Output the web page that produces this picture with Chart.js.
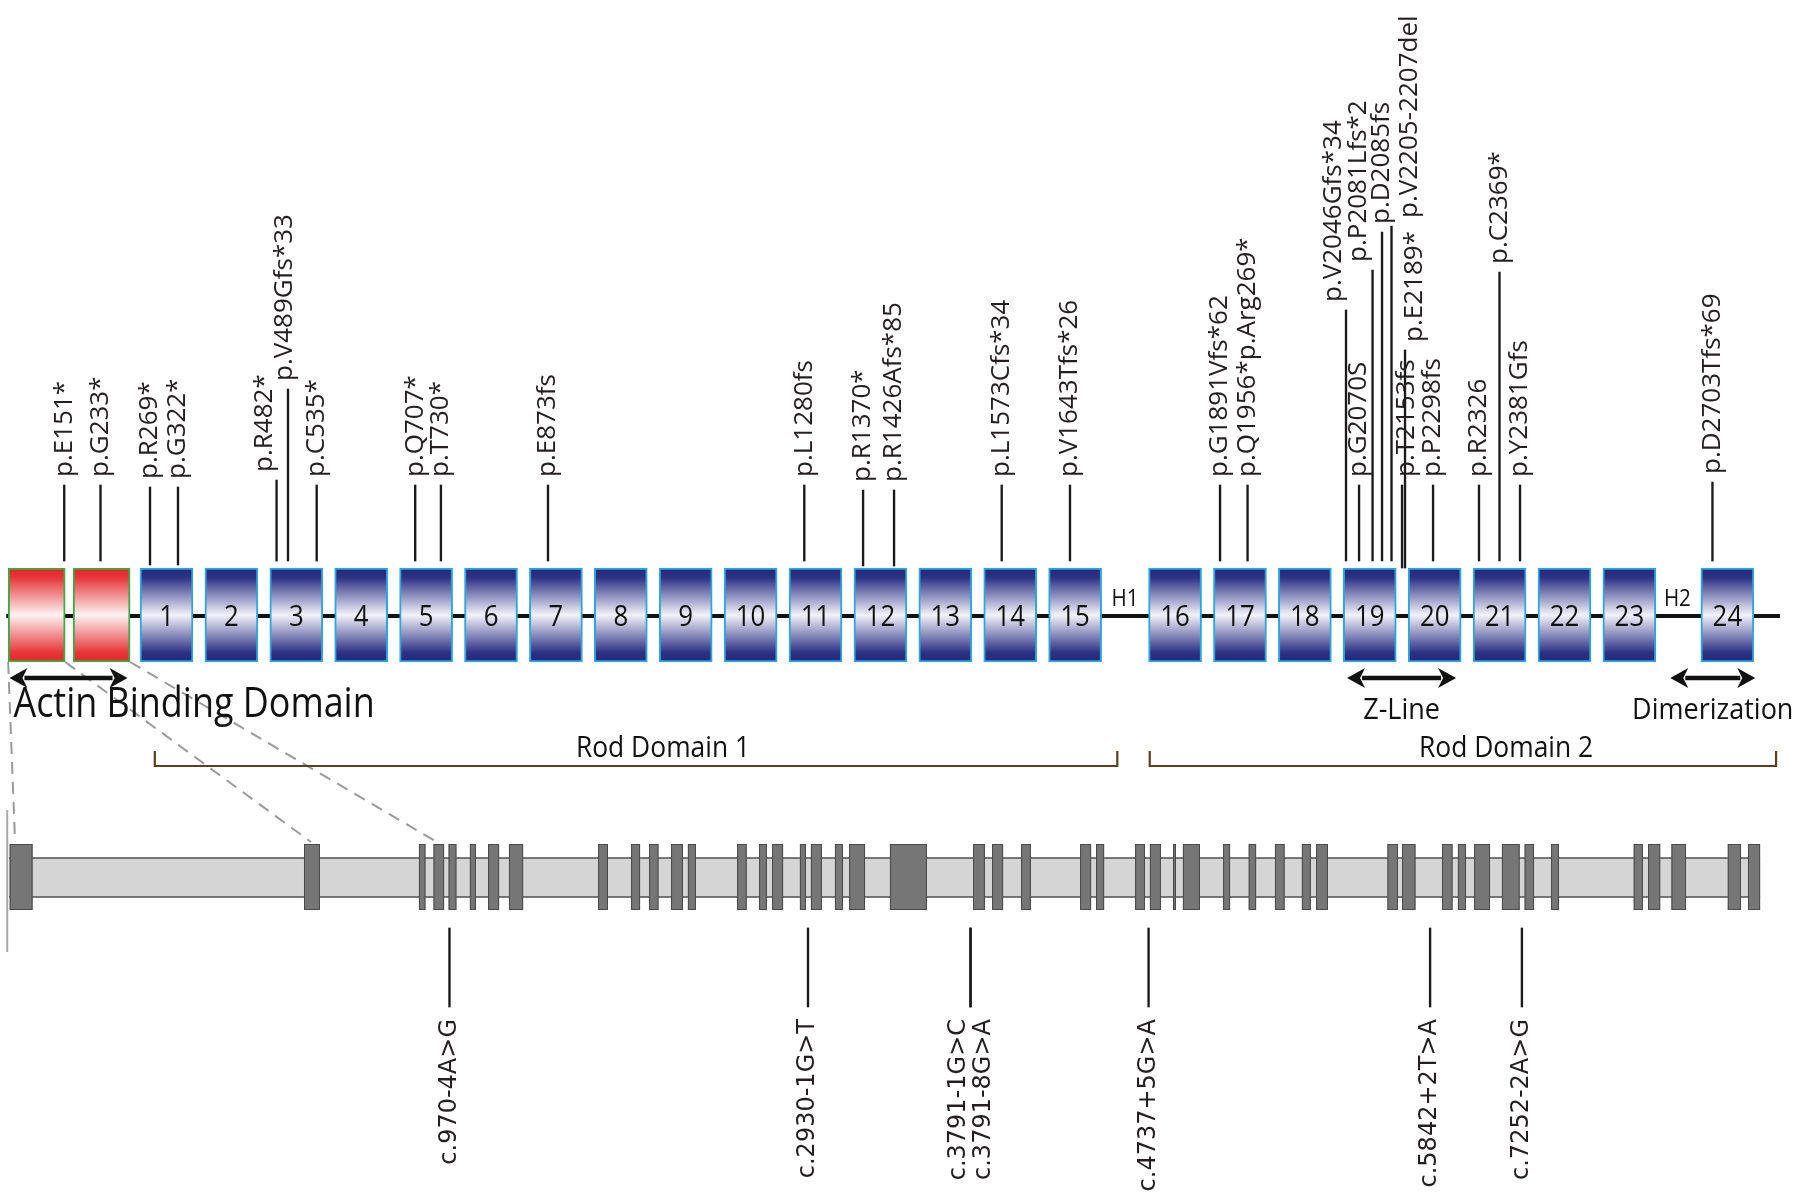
<!DOCTYPE html>
<html>
<head>
<meta charset="utf-8">
<script src="https://cdn.jsdelivr.net/npm/chart.js@4.4.1/dist/chart.umd.min.js"></script>
<style>
html,body{margin:0;padding:0;background:#ffffff;}
canvas{display:block;}
</style>
</head>
<body>
<canvas id="chart" width="1800" height="1195"></canvas>
<script>
// ================= DATA =================
// Protein domains (slot = position along the protein diagram, 1 unit = one spectrin repeat)
const domainNames = ['CH1','CH2','1','2','3','4','5','6','7','8','9','10','11','12','13','14','15','16','17','18','19','20','21','22','23','24'];
const domainKinds = ['actin','actin','rod','rod','rod','rod','rod','rod','rod','rod','rod','rod','rod','rod','rod','rod','rod','rod','rod','rod','rod','rod','rod','rod','rod','rod'];
const domainSlots = [-1,0,1,2,3,4,5,6,7,8,9,10,11,12,13,14,15,16.54,17.54,18.54,19.54,20.54,21.54,22.54,23.54,25.05];
const hingeNames = ['H1','H2'];
const hingeSlots = [15.77,24.28];

// Protein variants (position in slot units)
const proteinVariants = ['p.E151*','p.G233*','p.R269*','p.G322*','p.R482*','p.V489Gfs*33','p.C535*','p.Q707*','p.T730*','p.E873fs','p.L1280fs','p.R1370*','p.R1426Afs*85','p.L1573Cfs*34','p.V1643Tfs*26','p.G1891Vfs*62','p.Q1956*p.Arg269*','p.V2046Gfs*34','p.G2070S','p.P2081Lfs*2','p.D2085fs','p.V2205-2207del','p.T2153fs','p.E2189*','p.P2298fs','p.R2326','p.C2369*','p.Y2381Gfs','p.D2703Tfs*69'];
const proteinVariantSlots = [-0.576,-0.017,0.746,1.177,2.696,2.872,3.314,4.832,5.228,6.878,10.827,11.733,12.21,13.869,14.921,17.233,17.657,19.174,19.375,19.583,19.729,19.875,20.037,20.083,20.515,21.223,21.539,21.855,24.82];

// Arrow annotations (slot units)
const arrowNames = ['Actin Binding Domain','Z-Line','Dimerization'];
const arrowStartSlots = [-1.42,19.19,24.17];
const arrowEndSlots = [0.40,20.87,25.48];

// Bracket annotations (slot units)
const bracketNames = ['Rod Domain 1','Rod Domain 2'];
const bracketStartSlots = [0.82,16.15];
const bracketEndSlots = [15.65,25.80];
const bracketLabelSlots = [8.65,21.64];

// Gene structure (kb)
const geneStartKb = 0;
const geneEndKb = 78;
const exonStartKb = [0.03,13.14,18.26,18.91,19.58,20.53,21.34,22.27,26.24,27.71,28.51,29.49,30.24,32.43,33.41,33.99,35.23,35.72,36.79,37.42,39.24,42.94,43.79,45.08,47.71,48.42,50.16,50.82,51.85,52.29,54.08,55.22,56.39,57.59,58.22,61.40,62.05,63.83,64.54,65.26,66.50,67.51,68.69,72.37,73.01,74.05,76.56,77.46];
const exonEndKb   = [1.05,13.85,18.55,19.38,19.93,20.80,21.83,22.90,26.68,28.11,28.93,30.02,30.60,32.86,33.76,34.48,35.50,36.21,37.15,38.13,40.89,43.47,44.28,45.52,48.20,48.78,50.60,51.31,51.98,53.05,54.39,55.55,56.82,57.99,58.75,61.87,62.65,64.30,64.90,65.97,67.29,67.93,69.04,72.78,73.55,74.70,77.15,78.00];

// Splice variants (kb)
const spliceVariants = ['c.970-4A>G','c.2930-1G>T','c.3791-1G>C','c.3791-8G>A','c.4737+5G>A','c.5842+2T>A','c.7252-2A>G'];
const spliceVariantKb = [19.62,35.59,42.83,42.83,50.76,63.30,67.39];

// Zoom guide lines: protein slot -> gene kb
const guideFromSlots = [-1.44,-0.56,0.44];
const guideToKb = [0.27,13.45,19.06];

// ================= LAYOUT (canvas rows) =================
const L = {
  boxTop: 568, boxBottom: 662, backboneY: 616, backboneFrom: -1.47, backboneTo: 25.86,
  numBaseline: 626, hingeBaseline: 606,
  stemTopDefault: 485, stemBottomDefault: 561, labelGap: 8,
  arrowY: 678, arrowLabelBaseline: 719, actinLabelBaseline: 717,
  bracketY: 766, bracketTick: 751, bracketLabelBaseline: 757,
  guideTop: 662, guideBottom: 842, markerTop: 810, markerBottom: 952, markerKb: -0.08,
  geneBarTop: 858, geneBarBottom: 897, exonTop: 844, exonBottom: 910,
  spliceStemTop: 928, spliceStemBottom: 1007, spliceLabelTop: 1019
};
const stemTopOverride = {'p.R269*':487,'p.G322*':487,'p.R482*':480,'p.V489Gfs*33':389,'p.R1370*':490,'p.R1426Afs*85':490,
  'p.V2046Gfs*34':310,'p.P2081Lfs*2':270,'p.D2085fs':232,'p.V2205-2207del':226,'p.E2189*':350,'p.C2369*':272,'p.D2703Tfs*69':482};
const stemBottomOverride = {'p.R269*':565,'p.G322*':565,'p.R1370*':566,'p.R1426Afs*85':566,'p.E2189*':568,'p.T2153fs':568};
const labelDx = {'p.R482*':-12,'p.V489Gfs*33':-3,'p.V2046Gfs*34':-12,'p.P2081Lfs*2':-14,'p.V2205-2207del':18,'p.E2189*':10,'p.T2153fs':5};
const spliceLabelDx = {'c.3791-1G>C':-12,'c.3791-8G>A':13};

const TXT = '#231f20';
const FONT = '"Open Sans", "DejaVu Sans", sans-serif';

function stemTop(name){ return stemTopOverride[name] !== undefined ? stemTopOverride[name] : L.stemTopDefault; }
function stemBottom(name){ return stemBottomOverride[name] !== undefined ? stemBottomOverride[name] : L.stemBottomDefault; }

// ================= DATASETS =================
const actinData = [], rodData = [];
domainNames.forEach((n,i)=>{
  const pt = {x: domainSlots[i], y: [L.boxTop, L.boxBottom]};
  if (domainKinds[i] === 'actin') actinData.push(pt); else rodData.push(pt);
});
const stemData = proteinVariants.map((n,i)=>({x: proteinVariantSlots[i], y: [stemTop(n), stemBottom(n)]}));
const spliceStemData = spliceVariantKb.map(k=>({x:k, y:[L.spliceStemTop, L.spliceStemBottom]}));

const gradCache = {};
function boxGradient(kind){
  return function(context){
    const chart = context.chart;
    const fallback = kind === 'actin' ? '#e8262b' : '#2b2e83';
    const ys = chart.scales && chart.scales.y;
    if (!ys) return fallback;
    const t = ys.getPixelForValue(L.boxTop), b = ys.getPixelForValue(L.boxBottom);
    if (!isFinite(t) || !isFinite(b) || t === b) return fallback;
    const key = kind + '_' + Math.round(t) + '_' + Math.round(b);
    if (gradCache[key]) return gradCache[key];
    const g = chart.ctx.createLinearGradient(0, t, 0, b);
    if (kind === 'actin') {
      g.addColorStop(0,'#e42528'); g.addColorStop(0.1,'#e73639'); g.addColorStop(0.5,'#fdf2f2');
      g.addColorStop(0.9,'#e73639'); g.addColorStop(1,'#e42528');
    } else {
      g.addColorStop(0,'#24287a'); g.addColorStop(0.1,'#2d3184'); g.addColorStop(0.5,'#f2f2f9');
      g.addColorStop(0.9,'#2d3184'); g.addColorStop(1,'#24287a');
    }
    gradCache[key] = g;
    return g;
  };
}

// ================= DRAW HELPERS =================
function vText(ctx, str, px, py, align, font, color){
  ctx.save();
  ctx.translate(px, py);
  ctx.rotate(-Math.PI/2);
  ctx.font = font; ctx.fillStyle = color; ctx.textAlign = align; ctx.textBaseline = 'middle';
  ctx.fillText(str, 0, 0);
  ctx.restore();
}
function hText(ctx, str, px, py, font, align, sx, color){
  ctx.save();
  ctx.translate(px, py); ctx.scale(sx, 1);
  ctx.font = font; ctx.fillStyle = color; ctx.textAlign = align; ctx.textBaseline = 'alphabetic';
  ctx.fillText(str, 0, 0);
  ctx.restore();
}
function dblArrow(ctx, x1, x2, y){
  const head = 18, half = 10;
  ctx.save();
  ctx.strokeStyle = '#111'; ctx.fillStyle = '#111'; ctx.lineWidth = 4.5;
  ctx.beginPath(); ctx.moveTo(x1 + head - 3, y); ctx.lineTo(x2 - head + 3, y); ctx.stroke();
  ctx.beginPath(); ctx.moveTo(x1, y); ctx.lineTo(x1 + head, y - half); ctx.lineTo(x1 + head - 5, y); ctx.lineTo(x1 + head, y + half); ctx.closePath(); ctx.fill();
  ctx.beginPath(); ctx.moveTo(x2, y); ctx.lineTo(x2 - head, y - half); ctx.lineTo(x2 - head + 5, y); ctx.lineTo(x2 - head, y + half); ctx.closePath(); ctx.fill();
  ctx.restore();
}

const diagramPlugin = {
  id: 'diagram',
  beforeDatasetsDraw(chart){
    const ctx = chart.ctx, xs = chart.scales.x, xk = chart.scales.x2, ys = chart.scales.y;
    // backbone
    ctx.save();
    ctx.strokeStyle = '#111'; ctx.lineWidth = 4;
    ctx.beginPath();
    ctx.moveTo(xs.getPixelForValue(L.backboneFrom), ys.getPixelForValue(L.backboneY));
    ctx.lineTo(xs.getPixelForValue(L.backboneTo), ys.getPixelForValue(L.backboneY));
    ctx.stroke();
    ctx.restore();

    // gene bar
    const gx1 = xk.getPixelForValue(geneStartKb), gx2 = xk.getPixelForValue(geneEndKb);
    const gy1 = ys.getPixelForValue(L.geneBarTop), gy2 = ys.getPixelForValue(L.geneBarBottom);
    ctx.save();
    ctx.fillStyle = '#d5d5d5'; ctx.fillRect(gx1, gy1, gx2 - gx1, gy2 - gy1);
    ctx.strokeStyle = '#505050'; ctx.lineWidth = 1.6;
    ctx.beginPath(); ctx.moveTo(gx1, gy1); ctx.lineTo(gx2, gy1); ctx.moveTo(gx1, gy2); ctx.lineTo(gx2, gy2); ctx.stroke();
    // exons
    const ey1 = ys.getPixelForValue(L.exonTop), ey2 = ys.getPixelForValue(L.exonBottom);
    exonStartKb.forEach((s,i)=>{
      const a = xk.getPixelForValue(s), b = xk.getPixelForValue(exonEndKb[i]);
      ctx.fillStyle = '#767676'; ctx.fillRect(a, ey1, b - a, ey2 - ey1);
      ctx.strokeStyle = '#4a4a4a'; ctx.lineWidth = 1; ctx.strokeRect(a + 0.5, ey1 + 0.5, b - a - 1, ey2 - ey1 - 1);
    });
    ctx.restore();

    // guide lines
    ctx.save();
    ctx.strokeStyle = '#9a9a9a'; ctx.lineWidth = 2; ctx.setLineDash([12, 8]);
    guideFromSlots.forEach((s,i)=>{
      ctx.beginPath();
      ctx.moveTo(xs.getPixelForValue(s), ys.getPixelForValue(L.guideTop));
      ctx.lineTo(xk.getPixelForValue(guideToKb[i]), ys.getPixelForValue(L.guideBottom));
      ctx.stroke();
    });
    ctx.setLineDash([]);
    ctx.strokeStyle = '#a8a8a8'; ctx.lineWidth = 2;
    ctx.beginPath();
    ctx.moveTo(xk.getPixelForValue(L.markerKb), ys.getPixelForValue(L.markerTop));
    ctx.lineTo(xk.getPixelForValue(L.markerKb), ys.getPixelForValue(L.markerBottom));
    ctx.stroke();
    ctx.restore();
  },
  afterDatasetsDraw(chart){
    const ctx = chart.ctx, xs = chart.scales.x, xk = chart.scales.x2, ys = chart.scales.y;
    // numbers in repeats
    domainNames.forEach((n,i)=>{
      if (domainKinds[i] !== 'rod') return;
      hText(ctx, n, xs.getPixelForValue(domainSlots[i]), ys.getPixelForValue(L.numBaseline), '30px ' + FONT, 'center', 0.86, '#111');
    });
    hingeNames.forEach((n,i)=>{
      hText(ctx, n, xs.getPixelForValue(hingeSlots[i]), ys.getPixelForValue(L.hingeBaseline), '24px ' + FONT, 'center', 0.86, '#111');
    });
    // protein variant labels
    proteinVariants.forEach((n,i)=>{
      const px = xs.getPixelForValue(proteinVariantSlots[i]) + (labelDx[n] || 0);
      const py = ys.getPixelForValue(stemTop(n) - L.labelGap);
      vText(ctx, n, px, py, 'left', '26px ' + FONT, TXT);
    });
    // arrows
    arrowNames.forEach((n,i)=>{
      const a = xs.getPixelForValue(arrowStartSlots[i]), b = xs.getPixelForValue(arrowEndSlots[i]);
      dblArrow(ctx, a, b, ys.getPixelForValue(L.arrowY));
      if (i === 0) {
        hText(ctx, n, a + 4, ys.getPixelForValue(L.actinLabelBaseline), '42px ' + FONT, 'left', 0.855, '#111');
      } else {
        hText(ctx, n, (a + b) / 2, ys.getPixelForValue(L.arrowLabelBaseline), '30px ' + FONT, 'center', 0.9, '#111');
      }
    });
    // brackets
    ctx.save();
    ctx.strokeStyle = '#5f3d1f'; ctx.lineWidth = 2.2;
    bracketNames.forEach((n,i)=>{
      const a = xs.getPixelForValue(bracketStartSlots[i]), b = xs.getPixelForValue(bracketEndSlots[i]);
      const y0 = ys.getPixelForValue(L.bracketTick), y1 = ys.getPixelForValue(L.bracketY);
      ctx.beginPath(); ctx.moveTo(a, y0); ctx.lineTo(a, y1); ctx.lineTo(b, y1); ctx.lineTo(b, y0); ctx.stroke();
      hText(ctx, n, xs.getPixelForValue(bracketLabelSlots[i]), ys.getPixelForValue(L.bracketLabelBaseline), '30px ' + FONT, 'center', 0.88, '#111');
    });
    ctx.restore();
    // splice labels
    spliceVariants.forEach((n,i)=>{
      const px = xk.getPixelForValue(spliceVariantKb[i]) + (spliceLabelDx[n] || 0);
      vText(ctx, n, px, ys.getPixelForValue(L.spliceLabelTop), 'right', '24px "DejaVu Sans", sans-serif', TXT);
    });
  }
};

new Chart(document.getElementById('chart'), {
  type: 'bar',
  data: {
    datasets: [
      { label: 'Actin binding (CH) domains', data: actinData, xAxisID: 'x', yAxisID: 'y', grouped: false,
        barThickness: 57, backgroundColor: boxGradient('actin'), borderColor: '#3aaa46', borderWidth: 2, borderSkipped: false, order: 3 },
      { label: 'Spectrin repeats', data: rodData, xAxisID: 'x', yAxisID: 'y', grouped: false,
        barThickness: 53, backgroundColor: boxGradient('rod'), borderColor: '#2ba6df', borderWidth: 2, borderSkipped: false, order: 3 },
      { label: 'Protein variants', data: stemData, xAxisID: 'x', yAxisID: 'y', grouped: false,
        barThickness: 1.7, backgroundColor: '#1a1a1a', borderWidth: 0, order: 1 },
      { label: 'Splice variants', data: spliceStemData, xAxisID: 'x2', yAxisID: 'y', grouped: false,
        barThickness: 1.7, backgroundColor: '#1a1a1a', borderWidth: 0, order: 1 }
    ]
  },
  options: {
    responsive: false,
    devicePixelRatio: 1,
    animation: false,
    events: [],
    layout: { padding: 0 },
    plugins: { legend: { display: false }, tooltip: { enabled: false } },
    scales: {
      x:  { type: 'linear', min: -1.5655, max: 26.169, offset: false, display: false },
      x2: { type: 'linear', min: -0.401, max: 79.777, offset: false, display: false },
      y:  { type: 'linear', min: 0, max: 1195, reverse: true, display: false }
    }
  },
  plugins: [diagramPlugin]
});
</script>
</body>
</html>
